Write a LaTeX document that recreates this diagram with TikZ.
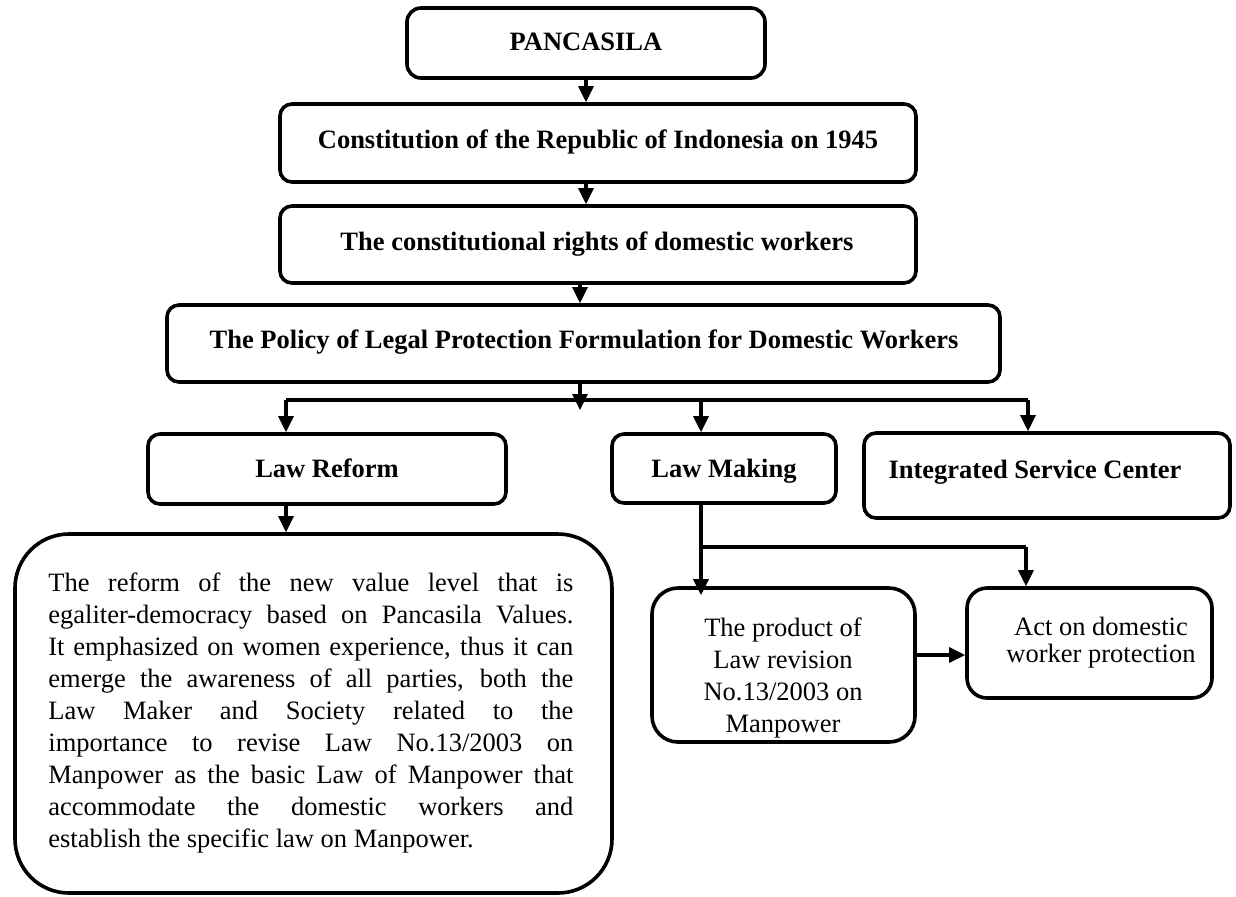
\documentclass[tikz,border=0pt]{standalone}
\usepackage{fontspec}
\setmainfont{Liberation Serif}
\usetikzlibrary{arrows.meta,fit}
\newcommand\jline[1]{\makebox[262.5pt][s]{#1}}
\begin{document}
\begin{tikzpicture}[x=0.5pt,y=-0.5pt,
  box/.style={draw, line width=1.8pt, rounded corners=6pt, inner sep=0pt},
  btxt/.style={font=\fontsize{13.25pt}{16pt}\selectfont\bfseries, inner sep=0pt, anchor=base},
  ntxt/.style={font=\fontsize{13.25pt}{16pt}\selectfont, inner sep=0pt, align=center, anchor=north},
  conn/.style={line width=1.6pt},
  arr/.style={conn, -{Triangle[width=7.5pt,length=8pt]}}]
\useasboundingbox (0,0) rectangle (1236,896);

% boxes
\node[box, rounded corners=7pt, fit={(407,8) (765,78)}] (pan) {};
\node[box, fit={(280,104) (916,182)}] (con) {};
\node[box, fit={(280,206) (916,283)}] (rig) {};
\node[box, fit={(167,305) (1000,382)}] (pol) {};
\node[box, fit={(148,434) (506,504)}] (lr) {};
\node[box, fit={(612,434) (836,503)}] (lm) {};
\node[box, fit={(864,433) (1230,518)}] (isc) {};
\node[box, rounded corners=27pt, fit={(15,534) (612,893)}] (big) {};
\node[box, rounded corners=13pt, fit={(652,588) (915,742)}] (prod) {};
\node[box, rounded corners=10pt, fit={(967,588) (1212,698)}] (act) {};

% texts
\node[btxt] (tpan) at (586,50) {PANCASILA};
\node[btxt] (tcon) at (598,148) {Constitution of the Republic of Indonesia on 1945};
\node[btxt] (trig) at (597,250) {The constitutional rights of domestic workers};
\node[btxt] (tpol) at (584,348) {The Policy of Legal Protection Formulation for Domestic Workers};
\node[btxt] (tlr) at (327,477) {Law Reform};
\node[btxt] (tlm) at (724,477) {Law Making};
\node[btxt] (tisc) at (1035,478) {Integrated Service Center};
\node[font=\fontsize{13.25pt}{16pt}\selectfont, inner sep=0pt, align=left, anchor=north west] (tbig) at (48,572) {%
\jline{The reform of the new value level that is}\\
\jline{egaliter-democracy based on Pancasila Values.}\\
\jline{It emphasized on women experience, thus it can}\\
\jline{emerge the awareness of all parties, both the}\\
\jline{Law Maker and Society related to the}\\
\jline{importance to revise Law No.13/2003 on}\\
\jline{Manpower as the basic Law of Manpower that}\\
\jline{accommodate the domestic workers and}\\
establish the specific law on Manpower.};
\node[ntxt] (tprod) at (783,617) {The product of\\Law revision\\No.13/2003 on\\Manpower};
\node[ntxt, font=\fontsize{13.25pt}{13.5pt}\selectfont] (tact) at (1101,617) {Act on domestic\\worker protection};

% connector points
\coordinate (xa) at (586,0);
\coordinate (xp) at (580,0);
\coordinate (pj) at (580,410);
\coordinate (jl) at (286,400);
\coordinate (jm) at (701,400);
\coordinate (jr) at (1028,400);
\coordinate (bm) at (701,547);
\coordinate (br) at (1026,547);
\coordinate (ah) at (0,655);

% connectors
\draw[arr] (pan.south -| xa) -- (con.north -| xa);
\draw[arr] (con.south -| xa) -- (rig.north -| xa);
\draw[arr] (rig.south -| xp) -- (pol.north -| xp);
\draw[conn] (jl) -- (jr);
\draw[arr] (pol.south -| pj) -- (pj);
\draw[arr] (jl) -- (lr.north -| jl);
\draw[arr] (jm) -- (lm.north -| jm);
\draw[arr] (jr) -- (isc.north -| jr);
\draw[arr] (lr.south -| jl) -- (big.north -| jl);
\draw[conn] (lm.south -| bm) -- (bm) -- (br);
\draw[arr] (bm) -- ([yshift=-4.5pt]prod.north -| bm);
\draw[arr] (br) -- (act.north -| br);
\draw[arr] (prod.east |- ah) -- (act.west |- ah);
\end{tikzpicture}
\end{document}
